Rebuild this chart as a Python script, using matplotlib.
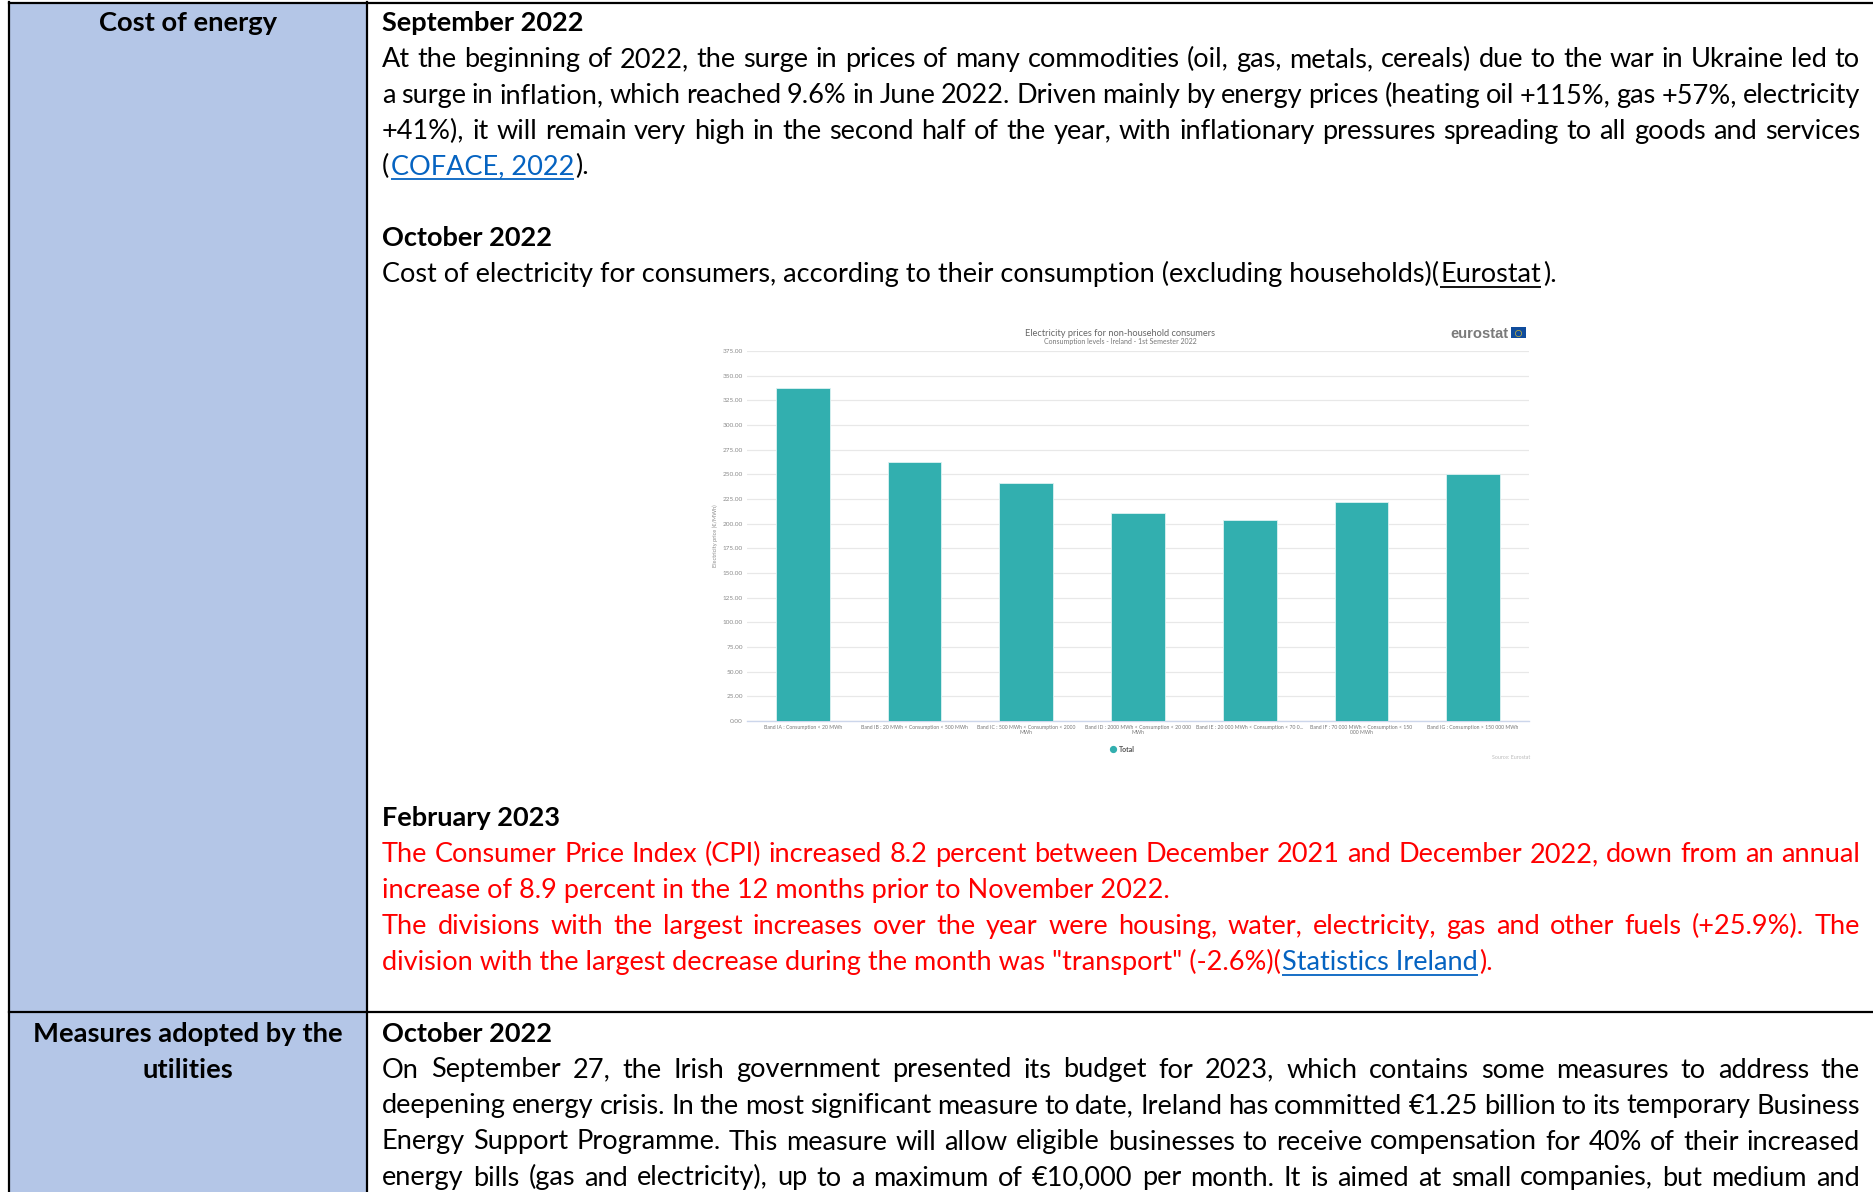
"""Table page with an embedded Eurostat bar chart, rebuilt at 1874x1192."""
import matplotlib
matplotlib.use("Agg")
import matplotlib.pyplot as plt
from matplotlib.patches import Rectangle

W, H = 1874, 1192
FONT = "Lato"
BODY_SIZE = 19.55
BLUE = "#0563C1"
RED = "#FF0000"
TEAL = "#32AFAF"

# Chart values (EUR/MWh)
bands = ["Band IA : Consumption < 20 MWh",
         "Band IB : 20 MWh < Consumption < 500 MWh",
         "Band IC : 500 MWh < Consumption < 2000\nMWh",
         "Band ID : 2000 MWh < Consumption < 20 000\nMWh",
         "Band IE : 20 000 MWh < Consumption < 70 0...",
         "Band IF : 70 000 MWh < Consumption < 150\n000 MWh",
         "Band IG : Consumption > 150 000 MWh"]
prices = [337, 263, 241.5, 211, 203.5, 221.5, 250]
price_ticks = [0, 25, 50, 75, 100, 125, 150, 175, 200, 225, 250, 275, 300, 325, 350, 375]

left_headers = [("Cost of energy", 31), ("Measures adopted by the", 1042), ("utilities", 1078)]

# Body lines: baseline, justified?, runs of (text, style)
lines = [
    (31, False, [("September 2022", "bold")]),
    (67, True, [("At the beginning of 2022, the surge in prices of many commodities (oil, gas, metals, cereals) due to the war in Ukraine led to", "plain")]),
    (103, True, [("a surge in inflation, which reached 9.6% in June 2022. Driven mainly by energy prices (heating oil +115%, gas +57%, electricity", "plain")]),
    (139, True, [("+41%), it will remain very high in the second half of the year, with inflationary pressures spreading to all goods and services", "plain")]),
    (174, False, [("(", "plain"), ("COFACE, 2022", "link"), (").", "plain")]),
    (246, False, [("October 2022", "bold")]),
    (282, False, [("Cost of electricity for consumers, according to their consumption (excluding households)(", "plain"),
                  ("Eurostat", "blacklink"), (").", "plain")]),
    (826, False, [("February 2023", "bold")]),
    (862, True, [("The Consumer Price Index (CPI) increased 8.2 percent between December 2021 and December 2022, down from an annual", "red")]),
    (898, False, [("increase of 8.9 percent in the 12 months prior to November 2022.", "red")]),
    (934, True, [("The divisions with the largest increases over the year were housing, water, electricity, gas and other fuels (+25.9%). The", "red")]),
    (970, False, [('division with the largest decrease during the month was "transport" (-2.6%)(', "red"),
                  ("Statistics Ireland", "link"), (").", "red")]),
    (1042, False, [("October 2022", "bold")]),
    (1077.5, True, [("On September 27, the Irish government presented its budget for 2023, which contains some measures to address the", "plain")]),
    (1113.5, True, [("deepening energy crisis. In the most significant measure to date, Ireland has committed €1.25 billion to its temporary Business", "plain")]),
    (1149.5, True, [("Energy Support Programme. This measure will allow eligible businesses to receive compensation for 40% of their increased", "plain")]),
    (1185.5, True, [("energy bills (gas and electricity), up to a maximum of €10,000 per month. It is aimed at small companies, but medium and", "plain")]),
]

STYLES = {
    "plain": dict(color="black"),
    "bold": dict(color="black", fontweight="bold"),
    "red": dict(color=RED),
    "link": dict(color=BLUE),
    "blacklink": dict(color="black"),
}

fig = plt.figure(figsize=(W / 100, H / 100), dpi=100, facecolor="white")
page = fig.add_axes([0, 0, 1, 1])
page.set_xlim(0, W)
page.set_ylim(H, 0)
page.axis("off")
renderer = fig.canvas.get_renderer()


def text_width(s, **kw):
    t = page.text(0, 0, s, fontsize=BODY_SIZE, family=FONT, **kw)
    w = t.get_window_extent(renderer).width
    t.remove()
    return w


def draw_line(baseline, justified, runs, x0=382, x1=1860):
    if justified:
        # spread the gaps so the line ends on the right margin
        text, style = runs[0]
        words = text.split(" ")
        kw = STYLES[style]
        widths = [text_width(w, **kw) for w in words]
        gap = (x1 - x0 - sum(widths)) / (len(words) - 1)
        x = x0
        for word, width in zip(words, widths):
            page.text(x, baseline, word, fontsize=BODY_SIZE, family=FONT, va="baseline", **kw)
            x += width + gap
        return
    x = x0
    for text, style in runs:
        kw = STYLES[style]
        page.text(x, baseline, text, fontsize=BODY_SIZE, family=FONT, va="baseline", **kw)
        width = text_width(text, **kw)
        if "link" in style:
            page.plot([x, x + width], [baseline + 5, baseline + 5], color=kw["color"], lw=1.3,
                      solid_capstyle="butt")
        x += width + 1.5


# Table cells and rules
page.add_patch(Rectangle((9, 3), 358, H - 3, fc="#B4C6E7", ec="none"))
page.plot([9, 9], [2, H], color="black", lw=1.6)
page.plot([367, 367], [2, H], color="black", lw=1.6)
page.plot([9, W], [2.5, 2.5], color="black", lw=1.6)
page.plot([9, W], [1012, 1012], color="black", lw=1.6)

for label, baseline in left_headers:
    page.text(188, baseline, label, fontsize=BODY_SIZE + 0.2, family=FONT, fontweight="bold",
              ha="center", va="baseline")
for baseline, justified, runs in lines:
    draw_line(baseline, justified, runs)

# Embedded chart
ax = fig.add_axes([747 / W, 1 - 721 / H, 782 / W, 370 / H])
ax.bar(range(len(prices)), prices, width=0.48, color=TEAL, edgecolor="#DDF2F2", linewidth=0.6, zorder=3)
ax.set_xlim(-0.5, len(prices) - 0.5)
ax.set_ylim(0, 375)
ax.set_yticks(price_ticks)
ax.set_yticklabels([f"{v:.2f}" for v in price_ticks], fontsize=4.6, color="#8a8a8a", family=FONT)
ax.set_xticks(range(len(bands)))
ax.set_xticklabels(bands, fontsize=3.7, color="#777777", family=FONT, linespacing=1.0)
ax.tick_params(length=0, pad=3)
ax.tick_params(axis="x", pad=3)
ax.grid(axis="y", color="#E8E8E8", lw=0.9, zorder=0)
for side in ["top", "left", "right"]:
    ax.spines[side].set_visible(False)
ax.spines["bottom"].set_color("#CCD6EB")
ax.spines["bottom"].set_linewidth(1.0)
ax.set_ylabel("Electricity price (€/MWh)", fontsize=4.1, color="#8a8a8a", family=FONT)
ax.yaxis.set_label_coords(-29 / 782, 0.5)

page.text(1120, 336, "Electricity prices for non-household consumers", fontsize=6.7, color="#666666",
          family=FONT, ha="center", va="baseline")
page.text(1120, 344, "Consumption levels - Ireland - 1st Semester 2022", fontsize=5, color="#777777",
          family=FONT, ha="center", va="baseline")
page.text(1509, 338, "eurostat", fontsize=10.6, color="#7A7A7A", family="Liberation Sans",
          fontweight="bold", ha="right", va="baseline")
page.add_patch(Rectangle((1511, 327), 15, 11, fc="#0F4C9C", ec="none"))
page.plot([1518.5], [332.5], marker="o", ms=4.5, mfc="none", mec="#C9B43C", mew=0.5, ls="none")
page.plot([1113], [749], marker="o", ms=4.2, color=TEAL, ls="none")
page.text(1119, 752, "Total", fontsize=5, color="#555555", fontweight="bold", family=FONT, va="baseline")
page.text(1530, 759, "Source: Eurostat", fontsize=3.8, color="#BBBBBB", family=FONT, ha="right", va="baseline")

fig.savefig("out.png", dpi=100, facecolor="white")
